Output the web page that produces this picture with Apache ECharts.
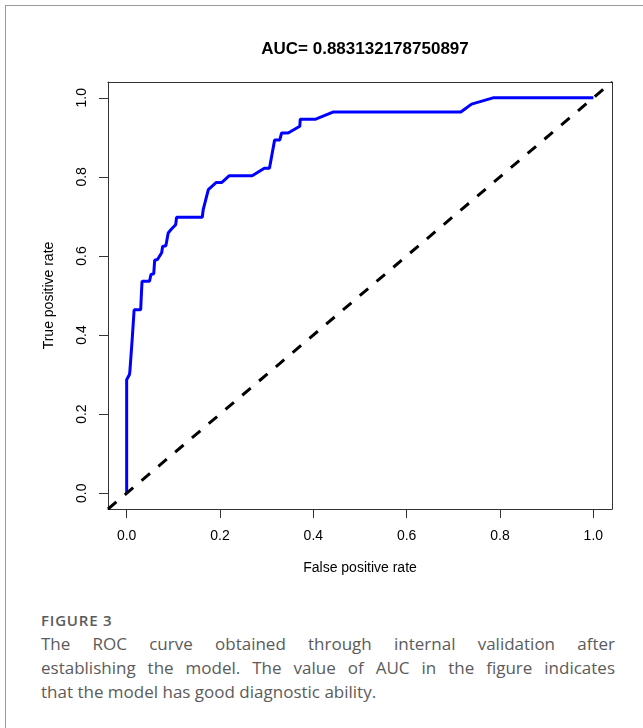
<!DOCTYPE html>
<html>
<head>
<meta charset="utf-8">
<script src="https://cdn.jsdelivr.net/npm/echarts@6/dist/echarts.min.js"></script>
<style>
  html, body { margin: 0; padding: 0; background: #fff; }
  body { width: 643px; height: 728px; position: relative; overflow: hidden; }
  #frame { position: absolute; left: 5px; top: 5px; right: 0; bottom: 0; border-top: 1px solid #9a9a9a; border-left: 1px solid #9a9a9a; }
  #main { position: absolute; left: 0; top: 0; width: 643px; height: 600px; }
  #fig { position: absolute; left: 41px; top: 610px; font-family: "Open Sans", sans-serif; font-size: 15px; font-weight: 600; color: #5a5a5c; letter-spacing: 0.8px; }
  #cap { position: absolute; left: 41px; top: 632px; width: 574px; font-family: "Open Sans", sans-serif; font-size: 17px; line-height: 24px; color: #5b5b5b; }
  #cap div { white-space: nowrap; }
  #cap .j { text-align: justify; text-align-last: justify; }
</style>
</head>
<body>
<div id="frame"></div>
<div id="main"></div>
<div id="fig">FIGURE 3</div>
<div id="cap">
  <div class="j">The ROC curve obtained through internal validation after</div>
  <div class="j">establishing the model. The value of AUC in the figure indicates</div>
  <div>that the model has good diagnostic ability.</div>
</div>
<script>
// ROC points
var fpr = [0, 0, 0.006, 0.007, 0.012, 0.016, 0.030, 0.032, 0.033, 0.049, 0.052, 0.058, 0.060, 0.066, 0.075, 0.077, 0.084, 0.089, 0.096, 0.105, 0.107, 0.162, 0.164, 0.175, 0.192, 0.204, 0.220, 0.269, 0.295, 0.306, 0.317, 0.328, 0.332, 0.346, 0.371, 0.372, 0.405, 0.442, 0.716, 0.739, 0.785, 1.0];
var tpr = [0, 0.287, 0.300, 0.310, 0.392, 0.464, 0.464, 0.515, 0.536, 0.536, 0.553, 0.555, 0.589, 0.591, 0.608, 0.624, 0.626, 0.658, 0.668, 0.679, 0.698, 0.698, 0.717, 0.768, 0.786, 0.786, 0.803, 0.803, 0.822, 0.822, 0.893, 0.893, 0.911, 0.911, 0.928, 0.946, 0.946, 0.964, 0.964, 0.984, 1.0, 1.0];
var ticks = [0, 0.2, 0.4, 0.6, 0.8, 1.0];
var axisRange = [-0.04, 1.04];
var aucTitle = 'AUC= 0.883132178750897';

var chart = echarts.init(document.getElementById('main'));
var rFont = 'Liberation Sans, Arial, sans-serif';
var boxLine = { show: true, onZero: false, lineStyle: { color: '#333', width: 1 } };

function fmt(v) { return v.toFixed(1); }

// plain axis used only to close the box on the top / right sides
function sideAxis(pos) {
  return {
    type: 'value', position: pos, min: axisRange[0], max: axisRange[1],
    axisLine: boxLine, axisTick: { show: false }, axisLabel: { show: false }, splitLine: { show: false }
  };
}

var option = {
  animation: false,
  title: {
    text: aucTitle,
    left: 360,
    top: 36,
    textAlign: 'center',
    textStyle: { fontFamily: rFont, fontSize: 17, fontWeight: 'bold', color: '#000' }
  },
  grid: { left: 108, top: 82, width: 504, height: 427 },
  xAxis: [{
    type: 'value',
    position: 'bottom',
    min: axisRange[0],
    max: axisRange[1],
    name: 'False positive rate',
    nameLocation: 'middle',
    nameGap: 52,
    nameTextStyle: { fontFamily: rFont, fontSize: 14, color: '#000' },
    axisLine: boxLine,
    splitLine: { show: false },
    axisTick: { show: true, customValues: ticks, length: 9, lineStyle: { color: '#333' } },
    axisLabel: {
      customValues: ticks, margin: 20,
      fontFamily: rFont, fontSize: 14, color: '#000', formatter: fmt
    }
  }, sideAxis('top')],
  yAxis: [{
    type: 'value',
    position: 'left',
    min: axisRange[0],
    max: axisRange[1],
    name: 'True positive rate',
    nameLocation: 'middle',
    nameGap: 52,
    nameTextStyle: { fontFamily: rFont, fontSize: 14, color: '#000' },
    axisLine: boxLine,
    splitLine: { show: false },
    axisTick: { show: true, customValues: ticks, length: 9, lineStyle: { color: '#333' } },
    axisLabel: {
      customValues: ticks, margin: 19, rotate: 90,
      fontFamily: rFont, fontSize: 14, color: '#000', formatter: fmt
    }
  }, sideAxis('right')],
  series: [
    {
      type: 'line',
      data: fpr.map(function (x, i) { return [x, tpr[i]]; }),
      symbol: 'none',
      lineStyle: { color: '#0000ff', width: 3 },
      z: 2
    },
    {
      type: 'line',
      data: [[axisRange[0], axisRange[0]], [axisRange[1], axisRange[1]]],
      symbol: 'none',
      lineStyle: { color: '#000', width: 3, type: [11, 11] },
      z: 3
    }
  ]
};
chart.setOption(option);
</script>
</body>
</html>
